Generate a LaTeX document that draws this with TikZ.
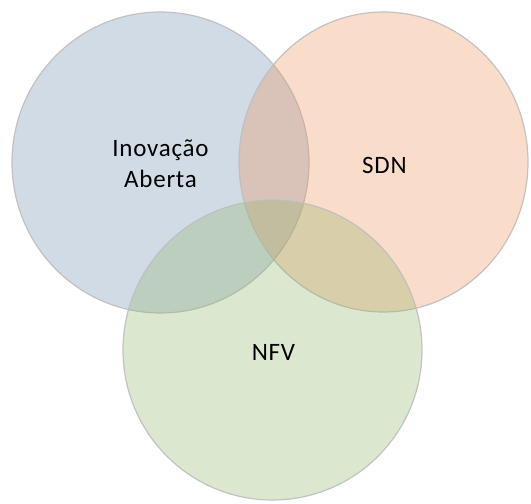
\documentclass[tikz,border=0pt]{standalone}
\usepackage{fontspec}
\setmainfont{Carlito}[LetterSpace=3]
\definecolor{setblue}{RGB}{102,138,172}
\definecolor{setorange}{RGB}{238,142,82}
\definecolor{setgreen}{RGB}{142,178,98}
\definecolor{rimgray}{RGB}{190,190,192}
\tikzset{
  setdisc/.style={fill=#1, fill opacity=0.3, draw=rimgray, draw opacity=0.9, line width=1.2pt},
  setlabel/.style={font=\fontsize{25}{31}\selectfont, text=black, align=center}
}
\begin{document}
\begin{tikzpicture}[x=1pt,y=-1pt]
\useasboundingbox (0,0) rectangle (531,504);
\fill[white] (0,0) rectangle (531,504);
% the three sets, later ones laid over earlier ones
\path[setdisc=setblue]   (160.5,162.5) ellipse [x radius=148.5pt, y radius=150.5pt];
\path[setdisc=setorange] (383.5,162)   ellipse [x radius=144.5pt, y radius=150pt];
\path[setdisc=setgreen]  (272.5,350)   ellipse [x radius=149.5pt, y radius=150pt];
% set names
\node[setlabel] (inov) at (160.5,164) {Inovação\\Aberta};
\node[setlabel] (sdn)  at (384.5,165) {SDN};
\node[setlabel] (nfv)  at (273.5,352.5) {NFV};
\end{tikzpicture}
\end{document}
